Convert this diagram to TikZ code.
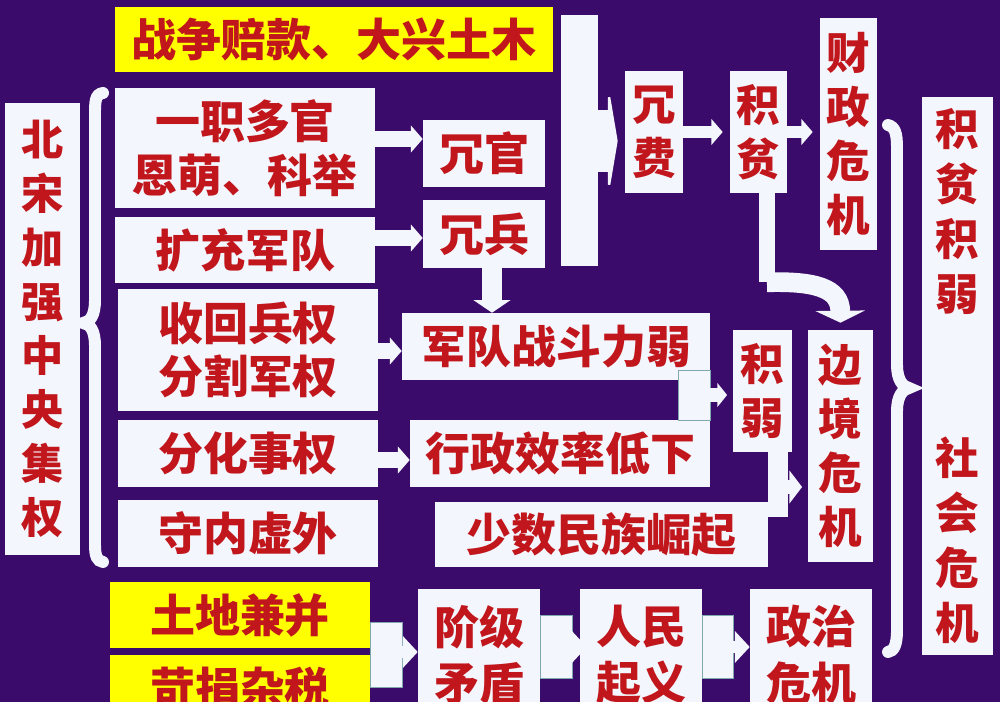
\documentclass[tikz,border=0pt]{standalone}
\usepackage{fontspec}
\setmainfont{Noto Sans CJK SC}
\usepackage{xcolor}
\usetikzlibrary{arrows.meta}
\definecolor{bgpurple}{HTML}{3B0B6B}
\definecolor{boxw}{HTML}{F3F6FC}
\definecolor{hiyel}{HTML}{FFFF00}
\definecolor{txtred}{HTML}{C0161C}
\definecolor{edgec}{HTML}{7FA7AE}

\begin{document}
\begin{tikzpicture}[x=0.025cm, y=-0.025cm,
  sz/.style 2 args={minimum width=#1*0.025cm, minimum height=#2*0.025cm},
  box/.style={fill=boxw, inner sep=0pt, align=center, text=txtred,
              font=\bfseries\fontsize{32}{38}\selectfont},
  ybox/.style={box, fill=hiyel},
  vbox/.style={box, font=\bfseries\fontsize{31}{38.4}\selectfont},
  tbox/.style={box, font=\bfseries\fontsize{32}{40}\selectfont},
  joint/.style={fill=boxw, draw=edgec, line width=0.4pt, inner sep=0pt},
  arr/.style={draw=boxw, line width=12pt, -{Triangle[length=8.5pt, width=19pt]}},
  smallarr/.style={draw=boxw, line width=8.5pt, -{Triangle[length=8pt, width=18pt]}, shorten >=5pt},
  botarr/.style={draw=boxw, line width=8pt, -{Triangle[length=10.5pt, width=22pt]}},
  wedge/.style={draw=boxw, line width=44pt, -{Triangle[length=7pt, width=83pt]}, shorten >=5pt},
  brace/.style={draw=boxw, line width=8.5pt, line cap=round}
]
  \useasboundingbox (0,0) rectangle (1000,702);
  \clip (0,0) rectangle (1000,702);
  \fill[bgpurple] (0,0) rectangle (1000,702);

  % left column
  \node[ybox, sz={438}{65}] (war) at (334,39.5) {战争赔款、大兴土木};
  \node[vbox, sz={75}{452}, font=\bfseries\fontsize{30}{38.4}\selectfont] (song) at (42.5,329)
    {北\\宋\\加\\强\\中\\央\\集\\权};
  \node[box, sz={260}{120}] (duoguan) at (245,148) {一职多官\\恩萌、科举};
  \node[box, sz={260}{66}] (kuojun) at (245,250) {扩充军队};
  \node[box, sz={260}{122}] (bingquan) at (248,350) {收回兵权\\分割军权};
  \node[box, sz={260}{67}] (shiquan) at (248,453.5) {分化事权};
  \node[box, sz={260}{67}] (shounei) at (248,533.5) {守内虚外};

  % middle
  \node[box, sz={122}{67}] (rongguan) at (484,153.5) {冗官};
  \node[box, sz={122}{68}] (rongbing) at (484,234) {冗兵};
  \node[joint, draw=none, sz={37}{251}] (bar) at (579.5,140.5) {};
  \node[vbox, sz={58}{122}] (rongfei) at (654,132) {冗\\费};
  \node[vbox, sz={57}{122}] (jipin) at (758.5,132) {积\\贫};
  \node[vbox, sz={57}{232}] (caizheng) at (848.5,134) {财\\政\\危\\机};
  \node[box, sz={308}{67}] (zhanli) at (556,346.5) {军队战斗力弱};
  \node[box, sz={300}{67}] (xiaolv) at (560,453.5) {行政效率低下};
  \node[box, sz={333}{65}] (minzu) at (601.5,534.5) {少数民族崛起};
  \node[vbox, sz={59}{122}] (jiruo) at (762.5,391) {积\\弱};
  \node[vbox, sz={65}{232}] (bianjing) at (840.5,446) {边\\境\\危\\机};
  \node[vbox, sz={71}{558}, font=\bfseries\fontsize{31}{39}\selectfont] (shehui) at (957.5,376)
    {积\\贫\\积\\弱\\\mbox{}\\\mbox{}\\社\\会\\危\\机};

  % bottom row
  \node[ybox, sz={260}{66}] (tudi) at (240,615) {土地兼并};
  \node[ybox, sz={260}{66}] (kejuan) at (240,688) {苛捐杂税};
  \node[tbox, sz={122}{132}] (jieji) at (479,655) {阶级\\矛盾};
  \node[tbox, sz={122}{132}] (renmin) at (641,655) {人民\\起义};
  \node[tbox, sz={122}{132}] (zhengzhi) at (811,655) {政治\\危机};

  % joints
  \node[joint, sz={32}{50}] (j4) at (694,395) {};
  \node[joint, draw=none, sz={20}{65}] (j5) at (778,484.5) {};
  \node[joint, sz={32}{65}] (j1) at (386,654.5) {};
  \node[joint, sz={32}{63}] (j2) at (556,646.5) {};
  \node[joint, sz={31}{63}] (j3) at (717.5,646.5) {};

  % braces
  \draw[brace] (103,93) .. controls (95,94) and (95,102) .. (95,115) -- (95,300)
    .. controls (95,316) and (90,322) .. (83,323) .. controls (90,324) and (95,330) .. (95,346)
    -- (95,545) .. controls (95,556) and (97,561) .. (103,562);
  \draw[brace] (888,125) .. controls (895,127) and (897,133) .. (897,148) -- (897,365)
    .. controls (897,380) and (903,387) .. (909,388) .. controls (903,389) and (897,396) .. (897,411)
    -- (897,630) .. controls (897,645) and (894,651) .. (888,652);

  % arrows
  \draw[arr] (duoguan.east |- 0,139) -- (rongguan.west |- 0,139);
  \draw[arr] (kuojun.east |- 0,238) -- (rongbing.west |- 0,238);
  \draw[arr] (bingquan.east |- 0,351) -- (zhanli.west |- 0,351);
  \draw[arr] (shiquan.east |- 0,460) -- (xiaolv.west |- 0,460);
  \draw[arr, line width=14pt, -{Triangle[length=9pt, width=26pt]}]
    (rongbing.south -| 492,0) -- (zhanli.north -| 492,0);
  \draw[wedge] (bar.east |- 0,141) -- (rongfei.west |- 0,141);
  \draw[smallarr] (rongfei.east |- 0,132) -- (jipin.west |- 0,132);
  \draw[smallarr] (jipin.east |- 0,132) -- (caizheng.west |- 0,132);
  \draw[smallarr, line width=10pt, -{Triangle[length=7pt, width=17pt]}, shorten >=4pt]
    (j4.east |- 0,395) -- (jiruo.west |- 0,395);
  \draw[smallarr, line width=10pt, -{Triangle[length=9pt, width=23pt]}, shorten >=4pt]
    (j5.east |- 0,487) -- (bianjing.west |- 0,487);
  \draw[draw=boxw, line width=11pt] ([xshift=6pt]jipin.south) -- ++(0,89) coordinate (bend);
  \draw[draw=boxw, line width=14pt, -{Triangle[length=8.5pt, width=35pt]}, shorten >=5pt]
    (bend) .. controls (815,281) and (840,288) .. (bianjing.north);
  \draw[botarr] (j1.east |- 0,652) -- (jieji.west |- 0,652);
  \draw[botarr, shorten >=-5pt] (j2.east |- 0,647) -- (renmin.west |- 0,647);
  \draw[botarr] (j3.east |- 0,647) -- (zhengzhi.west |- 0,647);
\end{tikzpicture}
\end{document}
